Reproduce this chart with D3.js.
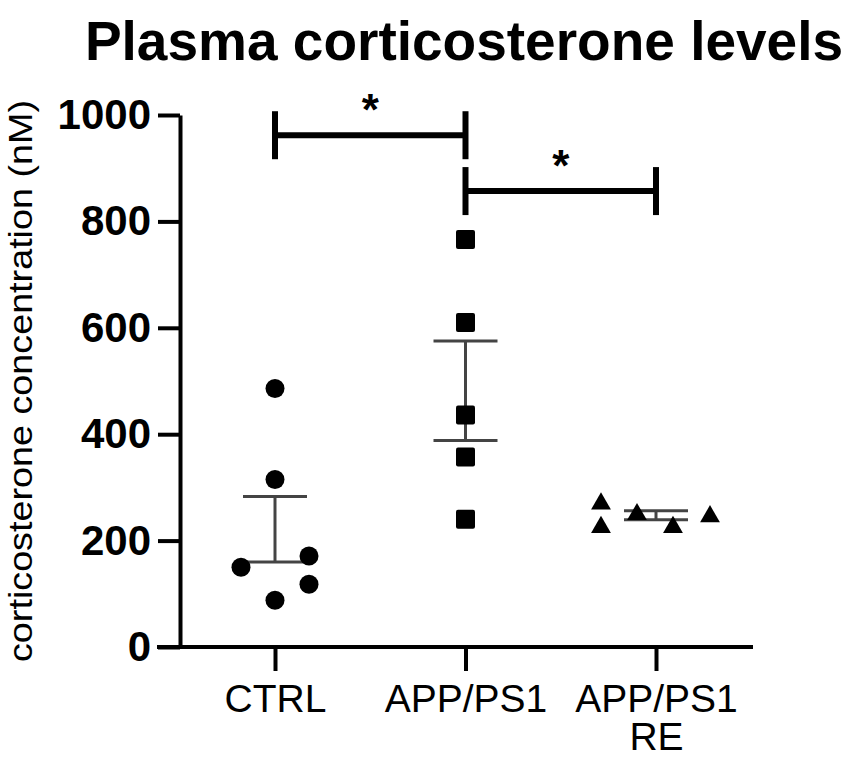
<!DOCTYPE html>
<html>
<head>
<meta charset="utf-8">
<script src="https://cdn.jsdelivr.net/npm/d3@7"></script>
<style>
  body { margin: 0; background: #fff; }
  text { font-family: "Liberation Sans", Arial, sans-serif; }
</style>
</head>
<body>
<div id="chart"></div>
<script>
var svgWidth = 851;
var svgHeight = 760;

// groups and the values
var groups = ["CTRL", "APP/PS1", "APP/PS1 RE"];
var ctrlValues = [486, 315, 171, 150, 118, 88];
var ctrlJitter = [0, 0, 34, -34, 34, 0];
var appValues = [766, 610, 436, 357, 240];
var appJitter = [0, 0, 0, 0, 0];
var reValues = [273, 229, 253, 229, 249];
var reJitter = [-55, -55, -19, 17, 54];

// mean +/- SEM bars (upper, lower)
var errUpper = [283, 575, 256];
var errLower = [160, 388, 239];

// significance brackets
var sigFrom = ["CTRL", "APP/PS1"];
var sigTo = ["APP/PS1", "APP/PS1 RE"];
var sigLevel = [962, 857];
var sigLabel = ["*", "*"];

var yTicks = [0, 200, 400, 600, 800, 1000];

var svg = d3.select("#chart")
    .append("svg")
    .attr("width", svgWidth)
    .attr("height", svgHeight);

var xScale = d3.scalePoint()
    .domain(groups)
    .range([275, 656]);

var yScale = d3.scaleLinear()
    .domain([0, 1000])
    .range([647, 115]);

// title
svg.append("text")
    .attr("x", 464)
    .attr("y", 60)
    .attr("text-anchor", "middle")
    .style("font-size", "55px")
    .style("font-weight", "bold")
    .text("Plasma corticosterone levels");

// y axis
var yAxis = svg.append("g")
    .attr("transform", "translate(180,0)")
    .call(d3.axisLeft(yScale).tickValues(yTicks).tickFormat(d3.format("d"))
        .tickSize(22).tickSizeOuter(0).tickPadding(7));
yAxis.selectAll("path, line").attr("stroke", "#000").attr("stroke-width", 4);
yAxis.selectAll("text")
    .attr("fill", "#000")
    .style("font-size", "42px")
    .style("font-weight", "bold")
    .style("font-family", "'Liberation Sans', Arial, sans-serif");

// x axis
var xAxis = svg.append("g")
    .attr("transform", "translate(0,647)")
    .call(d3.axisBottom(xScale).tickSize(24).tickSizeOuter(0));
xAxis.select(".domain").remove();
xAxis.append("line")
    .attr("x1", 157).attr("x2", 753)
    .attr("y1", 0).attr("y2", 0);
xAxis.selectAll("line").attr("stroke", "#000").attr("stroke-width", 4);
xAxis.selectAll(".tick text").remove();
xAxis.selectAll(".tick").each(function(d) {
    var t = d3.select(this).append("text")
        .attr("fill", "#000")
        .attr("text-anchor", "middle")
        .style("font-size", "39px")
        .style("font-family", "'Liberation Sans', Arial, sans-serif");
    var parts = d.split(" ");
    t.append("tspan").attr("x", 0).attr("y", 65).text(parts[0]);
    if (parts[1]) t.append("tspan").attr("x", 0).attr("y", 103).text(parts[1]);
});

// y label
svg.append("text")
    .attr("transform", "translate(32,381) rotate(-90)")
    .attr("text-anchor", "middle")
    .attr("textLength", 562)
    .attr("lengthAdjust", "spacingAndGlyphs")
    .style("font-size", "34px")
    .text("corticosterone concentration (nM)");

// error bars
var errGroup = svg.append("g");
groups.forEach(function(g, i) {
    var cx = xScale(g);
    errGroup.append("line")
        .attr("x1", cx).attr("x2", cx)
        .attr("y1", yScale(errUpper[i])).attr("y2", yScale(errLower[i]))
        .attr("stroke", "#444").attr("stroke-width", 3);
    [errUpper[i], errLower[i]].forEach(function(v) {
        errGroup.append("line")
            .attr("x1", cx - 32).attr("x2", cx + 32)
            .attr("y1", yScale(v)).attr("y2", yScale(v))
            .attr("stroke", "#444").attr("stroke-width", 3);
    });
});

// points
var ctrlData = ctrlValues.map(function(v, i) { return { v: v, dx: ctrlJitter[i] }; });
var appData = appValues.map(function(v, i) { return { v: v, dx: appJitter[i] }; });
var reData = reValues.map(function(v, i) { return { v: v, dx: reJitter[i] }; });

svg.append("g").selectAll("circle")
    .data(ctrlData)
    .enter()
    .append("circle")
    .attr("cx", d => xScale("CTRL") + d.dx)
    .attr("cy", d => yScale(d.v))
    .attr("r", 9.5)
    .attr("fill", "#000");

svg.append("g").selectAll("rect")
    .data(appData)
    .enter()
    .append("rect")
    .attr("x", d => xScale("APP/PS1") + d.dx - 9.5)
    .attr("y", d => yScale(d.v) - 9.5)
    .attr("width", 19)
    .attr("height", 19)
    .attr("rx", 2)
    .attr("fill", "#000");

var tri = d3.symbol().type(d3.symbolTriangle).size(170);
svg.append("g").selectAll("path")
    .data(reData)
    .enter()
    .append("path")
    .attr("d", tri)
    .attr("transform", d => `translate(${xScale("APP/PS1 RE") + d.dx},${yScale(d.v) + 2})`)
    .attr("fill", "#000");

// significance brackets
sigLevel.forEach(function(lv, i) {
    var x1 = xScale(sigFrom[i]);
    var x2 = xScale(sigTo[i]);
    var y = yScale(lv);
    var g = svg.append("g").attr("stroke", "#000").attr("stroke-width", 6);
    g.append("line").attr("x1", x1).attr("x2", x2).attr("y1", y).attr("y2", y);
    g.append("line").attr("x1", x1).attr("x2", x1).attr("y1", y - 24).attr("y2", y + 24);
    g.append("line").attr("x1", x2).attr("x2", x2).attr("y1", y - 24).attr("y2", y + 24);
    svg.append("text")
        .attr("x", (x1 + x2) / 2)
        .attr("y", y - 10)
        .attr("text-anchor", "middle")
        .style("font-size", "44px")
        .style("font-weight", "bold")
        .text(sigLabel[i]);
});
</script>
</body>
</html>
